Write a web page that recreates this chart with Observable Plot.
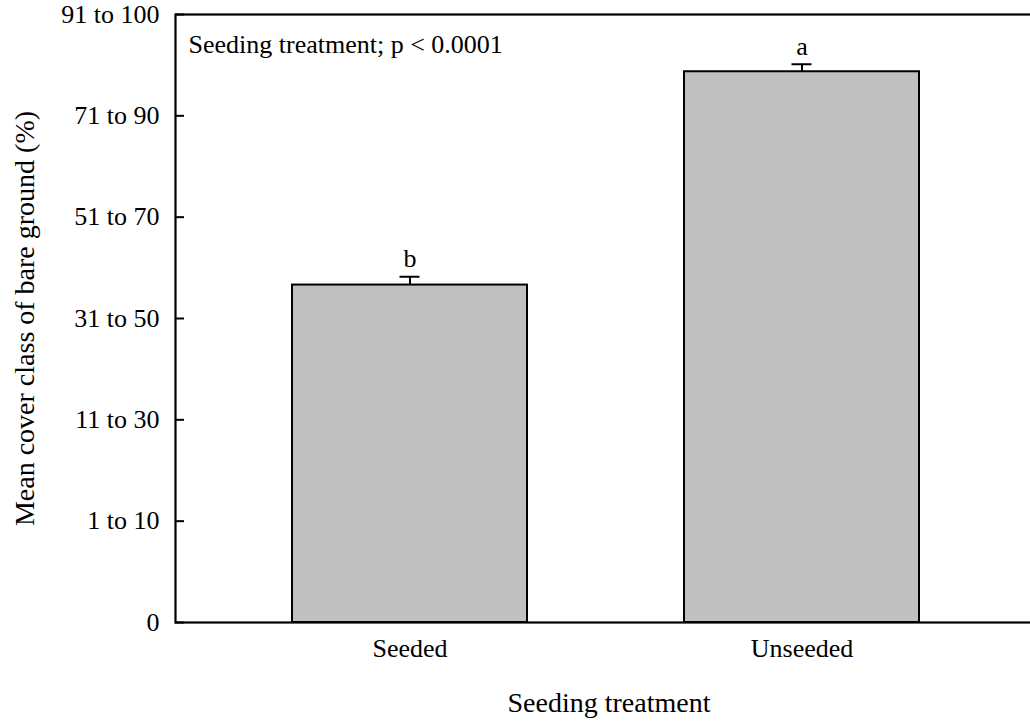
<!DOCTYPE html>
<html><head><meta charset="utf-8">
<script src="https://cdn.jsdelivr.net/npm/d3@7"></script>
<script src="https://cdn.jsdelivr.net/npm/@observablehq/plot@0.6"></script>
<style>body{margin:0;background:#fff;} svg{display:block;}</style>
</head><body><div id="chart"></div>
<script>
const categories = ["Seeded", "Unseeded"];
const means = [3.33, 5.435];
const errors = [0.082, 0.074];
const letters = ["b", "a"];
const yTickValues = [0, 1, 2, 3, 4, 5, 6];
const yTickLabels = ["0", "1 to 10", "11 to 30", "31 to 50", "51 to 70", "71 to 90", "91 to 100"];
const annotation = ["Seeding treatment; p < 0.0001"];
const xTitle = ["Seeding treatment"];
const yTitle = ["Mean cover class of bare ground (%)"];

const data = categories.map((c, i) => ({cat: c, mean: means[i], top: means[i] + errors[i], letter: letters[i]}));

const chart = Plot.plot({
  width: 1030,
  height: 721,
  marginLeft: 175,
  marginRight: -12,
  marginTop: 14,
  marginBottom: 99,
  style: {fontFamily: "'Liberation Serif', 'Times New Roman', serif", fontSize: "26px", color: "#000", background: "#fff"},
  x: {domain: categories, range: [175, 1036], paddingInner: 0.4, paddingOuter: 0.298},
  y: {domain: [0, 6]},
  marks: [
    Plot.barY(data, {x: "cat", y: "mean", fill: "#c0c0c0", stroke: "#000", strokeWidth: 2}),
    Plot.ruleX(data, {x: "cat", y1: "mean", y2: "top", stroke: "#000", strokeWidth: 2}),
    Plot.tickY(data, {x: "cat", y: "top", stroke: "#000", strokeWidth: 2, insetLeft: 107.5, insetRight: 107.5}),
    Plot.text(data, {x: "cat", y: "top", text: "letter", dy: -18, fontSize: 26}),
    Plot.frame({stroke: "#000", strokeWidth: 2.2}),
    Plot.axisY({ticks: yTickValues, tickFormat: (d) => yTickLabels[yTickValues.indexOf(d)], tickSize: -9, tickPadding: 25, strokeWidth: 2, label: null, fontSize: 26}),
    Plot.axisX({tickSize: 0, tickPadding: 16, label: null, fontSize: 26}),
    Plot.text(annotation, {frameAnchor: "top-left", text: d => d, dx: 13, dy: 30, lineAnchor: "middle", fontSize: 26}),
    Plot.text(xTitle, {frameAnchor: "bottom", text: d => d, dy: 81, lineAnchor: "middle", fontSize: 28}),
    Plot.text(yTitle, {frameAnchor: "left", text: d => d, dx: -150, rotate: -90, textAnchor: "middle", lineAnchor: "middle", fontSize: 28})
  ]
});
document.getElementById("chart").appendChild(chart);
</script>
</body></html>
